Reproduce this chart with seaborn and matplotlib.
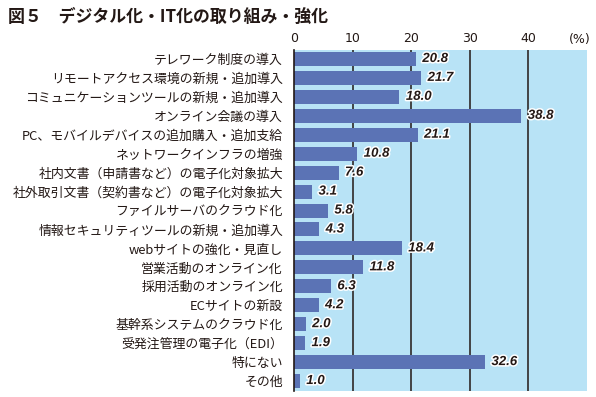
import matplotlib
matplotlib.use("Agg")
import matplotlib.pyplot as plt
import matplotlib.patheffects as pe
import matplotlib.transforms as mtransforms
from matplotlib import font_manager
import seaborn as sns
import pandas as pd

categories = [
    "テレワーク制度の導入",
    "リモートアクセス環境の新規・追加導入",
    "コミュニケーションツールの新規・追加導入",
    "オンライン会議の導入",
    "PC、モバイルデバイスの追加購入・追加支給",
    "ネットワークインフラの増強",
    "社内文書（申請書など）の電子化対象拡大",
    "社外取引文書（契約書など）の電子化対象拡大",
    "ファイルサーバのクラウド化",
    "情報セキュリティツールの新規・追加導入",
    "webサイトの強化・見直し",
    "営業活動のオンライン化",
    "採用活動のオンライン化",
    "ECサイトの新設",
    "基幹系システムのクラウド化",
    "受発注管理の電子化（EDI）",
    "特にない",
    "その他",
]
values = [20.8, 21.7, 18.0, 38.8, 21.1, 10.8, 7.6, 3.1, 5.8, 4.3,
          18.4, 11.8, 6.3, 4.2, 2.0, 1.9, 32.6, 1.0]
x_ticks = [0, 10, 20, 30, 40]
title = "図５　デジタル化・IT化の取り組み・強化"
unit_label = "(%)"

sns.set_theme(style="white")
plt.rcParams['font.family'] = ['Noto Sans CJK JP', 'DejaVu Sans']

TEXT = "#231815"
BG = "#b8e3f6"
BAR = "#5b73b5"

available = {f.name for f in font_manager.fontManager.ttflist}
num_family = None
for cand in ["Liberation Sans Narrow", "DejaVu Sans Condensed", "Liberation Sans"]:
    if cand in available:
        num_family = cand
        break
if num_family is None:
    num_family = "DejaVu Sans"

df = pd.DataFrame({"cat": categories, "val": values})

fig = plt.figure(figsize=(5.96, 3.97), dpi=100)
ax = fig.add_axes([294/596, 1 - 390.5/397, (587-294)/596, (390.5-49.5)/397])
ax.set_facecolor(BG)

sns.barplot(data=df, x="val", y="cat", orient="h", color=BAR, width=0.74,
            saturation=1, linewidth=0, edgecolor=BAR, ax=ax, zorder=3)

ax.set_xlim(0, 50)
ax.set_ylim(len(categories) - 0.5, -0.5)
ax.set_xlabel("")
ax.set_ylabel("")

ax.xaxis.tick_top()
ax.set_xticks(x_ticks)
ax.set_xticklabels([str(t) for t in x_ticks], fontsize=9, color=TEXT,
                   family=['DejaVu Sans'])
ax.tick_params(axis='x', length=0, pad=3)
ax.tick_params(axis='y', length=0, pad=8, labelsize=9.3, labelcolor=TEXT)

for t in x_ticks[1:]:
    ax.axvline(t, color=TEXT, lw=1.1, zorder=1)

for s in ["top", "right", "bottom"]:
    ax.spines[s].set_visible(False)
ax.spines["left"].set_color(TEXT)
ax.spines["left"].set_linewidth(1.2)
ax.spines["left"].set_zorder(4)

trans = mtransforms.blended_transform_factory(ax.transData, ax.transAxes)
ax.text(48.8, 1.0 + 3/341, unit_label, transform=trans, ha="center", va="bottom",
        fontsize=9, color=TEXT, family=['DejaVu Sans'])

for i, v in enumerate(values):
    ax.text(v + 1.1, i, f"{v:.1f}", va="center", ha="left", fontsize=9.5,
            fontweight="bold", fontstyle="italic", color=TEXT,
            family=[num_family], zorder=5,
            path_effects=[pe.withStroke(linewidth=2.2, foreground="white")])

fig.text(8/596, 1 - 17/397, title, ha="left", va="center", fontsize=12.2,
         fontweight="bold", color=TEXT)

fig.savefig("out.png", dpi=100, facecolor="white")
